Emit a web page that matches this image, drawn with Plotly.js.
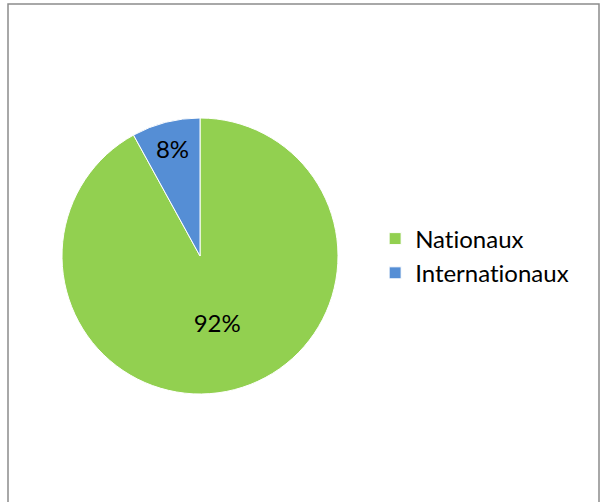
<!DOCTYPE html>
<html>
<head>
<meta charset="utf-8">
<script src="https://cdn.plot.ly/plotly-3.0.1.min.js"></script>
<style>
html,body{margin:0;padding:0;background:#fff;}
#chart{width:607px;height:502px;}
#chart text{font-variant-ligatures:none;font-feature-settings:"liga" 0,"clig" 0;}
</style>
</head>
<body>
<div id="chart"></div>
<script>
const categories = ["Nationaux", "Internationaux"];
const values = [92, 8];
const colors = ["#92D050", "#558ED5"];

const fontFamily = "Lato, 'Open Sans', sans-serif";

const trace = {
  type: "pie",
  labels: categories,
  values: values,
  sort: false,
  direction: "clockwise",
  rotation: 0,
  marker: { colors: colors, line: { color: "#ffffff", width: 1 } },
  textinfo: "percent",
  texttemplate: "%{percent:.0%}",
  textposition: "inside",
  insidetextorientation: "horizontal",
  textfont: { family: fontFamily, size: 24, color: "#000000" },
  domain: { x: [62/607, 338/607], y: [1 - 394/502, 1 - 118/502] },
  hoverinfo: "label+percent"
};

const layout = {
  width: 607,
  height: 502,
  margin: { l: 0, r: 0, t: 0, b: 0 },
  paper_bgcolor: "#ffffff",
  showlegend: true,
  legend: {
    x: 0.618, xanchor: "left",
    y: 0.49, yanchor: "middle",
    font: { family: fontFamily, size: 24, color: "#000000" },
    bgcolor: "rgba(0,0,0,0)"
  },
  shapes: [{
    type: "rect", xref: "paper", yref: "paper",
    x0: 8/607, x1: 599/607, y0: -0.05, y1: 1 - 4/502,
    line: { color: "#8c8c8c", width: 1.5 }, fillcolor: "rgba(0,0,0,0)"
  }]
};

Plotly.newPlot("chart", [trace], layout, { displayModeBar: false, staticPlot: true });
</script>
</body>
</html>
